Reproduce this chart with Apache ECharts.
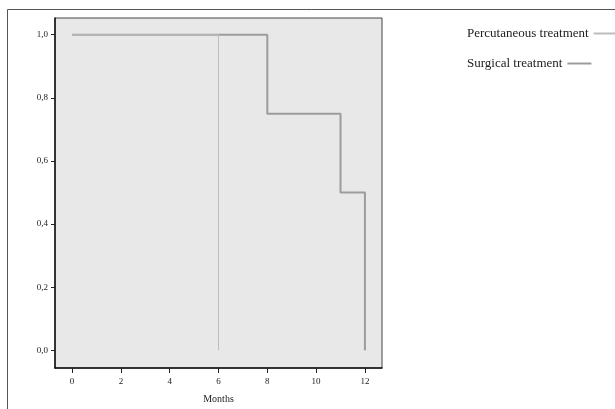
<!DOCTYPE html>
<html>
<head>
<meta charset="utf-8">
<script src="https://cdn.jsdelivr.net/npm/echarts@6/dist/echarts.min.js"></script>
<style>
html,body{margin:0;padding:0;background:#fff;}
#chart{width:615px;height:409px;}
</style>
</head>
<body>
<div id="chart"></div>
<script>
const seriesNames = ['Percutaneous treatment', 'Surgical treatment'];
const percTimes = [0, 6];
const percSurvival = [1.0, 0.0];
const surgTimes = [0, 8, 11, 12];
const surgSurvival = [1.0, 0.75, 0.5, 0.0];
const xTicks = [0, 2, 4, 6, 8, 10, 12];
const yTicks = [0.0, 0.2, 0.4, 0.6, 0.8, 1.0];
const xTitle = 'Months';

const pair = (t, s) => t.map((v, i) => [v, s[i]]);
const fontFam = '"Liberation Serif", "DejaVu Serif", serif';

const legendBase = {
  orient: 'horizontal', left: 462, align: 'right',
  itemWidth: 24, itemHeight: 2, itemGap: 8, icon: 'rect',
  textStyle: {fontFamily: fontFam, fontSize: 13, color: '#222'}
};

const chart = echarts.init(document.getElementById('chart'), null, {renderer: 'canvas'});
chart.setOption({
  animation: false,
  backgroundColor: '#ffffff',
  grid: {
    left: 55, right: 233, top: 18, bottom: 35,
    show: true, backgroundColor: '#e8e8e8', borderColor: '#444', borderWidth: 1
  },
  legend: [
    Object.assign({}, legendBase, {top: 22, data: [seriesNames[0]]}),
    Object.assign({}, legendBase, {top: 52, data: [seriesNames[1]]})
  ],
  xAxis: {
    type: 'value', min: -0.7, max: 12.7,
    name: xTitle, nameLocation: 'middle', nameGap: 26,
    nameTextStyle: {fontFamily: fontFam, fontSize: 10, color: '#222'},
    splitLine: {show: false},
    axisLine: {show: true, onZero: false, lineStyle: {color: '#111', width: 1.5}},
    axisTick: {show: true, length: 5, customValues: xTicks, lineStyle: {color: '#222'}},
    axisLabel: {customValues: xTicks, margin: 9, fontFamily: fontFam, fontSize: 9, color: '#222'}
  },
  yAxis: {
    type: 'value', min: -0.056, max: 1.053,
    splitLine: {show: false},
    axisLine: {show: true, onZero: false, lineStyle: {color: '#111', width: 1.5}},
    axisTick: {show: true, length: 4, customValues: yTicks, lineStyle: {color: '#222'}},
    axisLabel: {
      customValues: yTicks, margin: 7, fontFamily: fontFam, fontSize: 9, color: '#222',
      formatter: v => v.toFixed(1).replace('.', ',')
    }
  },
  series: [
    {
      name: seriesNames[1], type: 'line', step: 'end', showSymbol: false,
      data: pair(surgTimes, surgSurvival),
      lineStyle: {color: '#9c9c9c', width: 2}, itemStyle: {color: '#9c9c9c'}, z: 2
    },
    {
      name: seriesNames[0], type: 'line', step: 'end', showSymbol: false,
      data: pair(percTimes, percSurvival),
      lineStyle: {color: '#bdbdbd', width: 1}, itemStyle: {color: '#bdbdbd'}, z: 3
    }
  ],
  graphic: [
    {type: 'rect', shape: {x: 7.5, y: 9.5, width: 620, height: 420},
     style: {fill: null, stroke: '#555', lineWidth: 1}, silent: true}
  ]
});
</script>
</body>
</html>
